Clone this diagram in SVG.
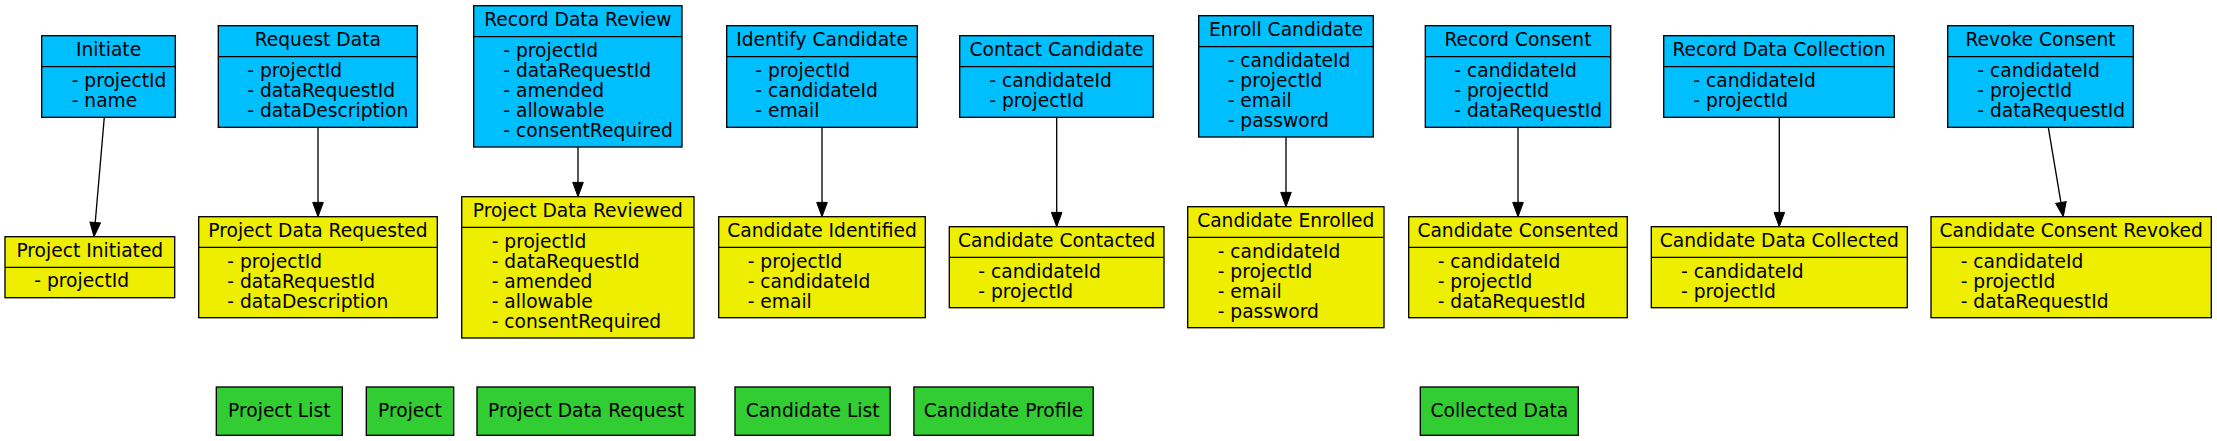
<svg xmlns="http://www.w3.org/2000/svg" width="2217" height="441" viewBox="0 0 2217 441">
<style>
text{font-family:"DejaVu Sans","Liberation Sans",sans-serif;font-size:18.67px;fill:#000}
.t{text-anchor:middle}
.b{fill:#00bfff;stroke:#000;stroke-width:1.33}
.y{fill:#eeee00;stroke:#000;stroke-width:1.33}
.g{fill:#32cd32;stroke:#000;stroke-width:1.33}
.d{stroke:#000;stroke-width:1.33;fill:none}
.e{stroke:#000;stroke-width:1.33;fill:none;marker-end:url(#ah)}
</style>
<defs>
<marker id="ah" markerUnits="userSpaceOnUse" markerWidth="15" markerHeight="11" refX="14.3" refY="5.3" orient="auto" overflow="visible">
<path d="M0,0 L14.3,5.3 L0,10.6 z" fill="#000" stroke="#000" stroke-width="1"/>
</marker>
</defs>
<rect width="2217" height="441" fill="#fff"/>

<g id="connectors">
<line class="e" x1="104.3" y1="117.3" x2="94" y2="236.7"/>
<line class="e" x1="318" y1="127.3" x2="318" y2="216.7"/>
<line class="e" x1="578" y1="147" x2="578" y2="196.7"/>
<line class="e" x1="822" y1="127.3" x2="822" y2="216.7"/>
<line class="e" x1="1056.7" y1="117.3" x2="1056.7" y2="226.7"/>
<line class="e" x1="1286" y1="137" x2="1286" y2="206.7"/>
<line class="e" x1="1518" y1="127.3" x2="1518" y2="216.7"/>
<line class="e" x1="1779.3" y1="117.3" x2="1779.3" y2="226.7"/>
<line class="e" x1="2048.3" y1="127.3" x2="2063.3" y2="216.7"/>
</g>

<g id="initiate">
<rect class="b" x="41.7" y="35.7" width="133.6" height="81.6"/>
<line class="d" x1="41.7" y1="66.7" x2="175.3" y2="66.7"/>
<text class="t" x="108.5" y="55.5">Initiate</text>
<text x="71.7" y="86.7">- projectId</text>
<text x="71.7" y="106.7">- name</text>
</g>

<g id="request-data">
<rect class="b" x="218.3" y="25.7" width="199" height="101.6"/>
<line class="d" x1="218.3" y1="56.7" x2="417.3" y2="56.7"/>
<text class="t" x="317.8" y="45.5">Request Data</text>
<text x="247.3" y="76.7">- projectId</text>
<text x="247.3" y="96.7">- dataRequestId</text>
<text x="247.3" y="116.7">- dataDescription</text>
</g>

<g id="record-data-review">
<rect class="b" x="473.7" y="5.7" width="208.3" height="141.3"/>
<line class="d" x1="473.7" y1="36.7" x2="682" y2="36.7"/>
<text class="t" x="577.9" y="25.5">Record Data Review</text>
<text x="503.3" y="56.7">- projectId</text>
<text x="503.3" y="76.7">- dataRequestId</text>
<text x="503.3" y="96.7">- amended</text>
<text x="503.3" y="116.7">- allowable</text>
<text x="503.3" y="136.7">- consentRequired</text>
</g>

<g id="identify-candidate">
<rect class="b" x="726.7" y="25.7" width="190.6" height="101.6"/>
<line class="d" x1="726.7" y1="56.7" x2="917.3" y2="56.7"/>
<text class="t" x="822" y="45.5">Identify Candidate</text>
<text x="755.3" y="76.7">- projectId</text>
<text x="755.3" y="96.7">- candidateId</text>
<text x="755.3" y="116.7">- email</text>
</g>

<g id="contact-candidate">
<rect class="b" x="959.7" y="35.7" width="193.6" height="81.6"/>
<line class="d" x1="959.7" y1="66.7" x2="1153.3" y2="66.7"/>
<text class="t" x="1056.5" y="55.5">Contact Candidate</text>
<text x="989.3" y="86.7">- candidateId</text>
<text x="989.3" y="106.7">- projectId</text>
</g>

<g id="enroll-candidate">
<rect class="b" x="1198.7" y="15.7" width="174.6" height="121.3"/>
<line class="d" x1="1198.7" y1="46.7" x2="1373.3" y2="46.7"/>
<text class="t" x="1286" y="35.5">Enroll Candidate</text>
<text x="1227.7" y="66.7">- candidateId</text>
<text x="1227.7" y="86.7">- projectId</text>
<text x="1227.7" y="106.7">- email</text>
<text x="1227.7" y="126.7">- password</text>
</g>

<g id="record-consent">
<rect class="b" x="1425.3" y="25.7" width="185.4" height="101.6"/>
<line class="d" x1="1425.3" y1="56.7" x2="1610.7" y2="56.7"/>
<text class="t" x="1518" y="45.5">Record Consent</text>
<text x="1454.3" y="76.7">- candidateId</text>
<text x="1454.3" y="96.7">- projectId</text>
<text x="1454.3" y="116.7">- dataRequestId</text>
</g>

<g id="record-data-collection">
<rect class="b" x="1663.7" y="35.7" width="230.6" height="81.6"/>
<line class="d" x1="1663.7" y1="66.7" x2="1894.3" y2="66.7"/>
<text class="t" x="1779" y="55.5">Record Data Collection</text>
<text x="1693.3" y="86.7">- candidateId</text>
<text x="1693.3" y="106.7">- projectId</text>
</g>

<g id="revoke-consent">
<rect class="b" x="1947.7" y="25.7" width="185.6" height="101.6"/>
<line class="d" x1="1947.7" y1="56.7" x2="2133.3" y2="56.7"/>
<text class="t" x="2040.5" y="45.5">Revoke Consent</text>
<text x="1977.3" y="76.7">- candidateId</text>
<text x="1977.3" y="96.7">- projectId</text>
<text x="1977.3" y="116.7">- dataRequestId</text>
</g>

<g id="project-initiated">
<rect class="y" x="5" y="236.7" width="169.7" height="61"/>
<line class="d" x1="5" y1="267.3" x2="174.7" y2="267.3"/>
<text class="t" x="89.8" y="256.5">Project Initiated</text>
<text x="34.3" y="287.3">- projectId</text>
</g>

<g id="project-data-requested">
<rect class="y" x="198.7" y="216.7" width="238.6" height="101"/>
<line class="d" x1="198.7" y1="247.3" x2="437.3" y2="247.3"/>
<text class="t" x="318" y="236.5">Project Data Requested</text>
<text x="227.3" y="267.5">- projectId</text>
<text x="227.3" y="287.5">- dataRequestId</text>
<text x="227.3" y="307.5">- dataDescription</text>
</g>

<g id="project-data-reviewed">
<rect class="y" x="461.7" y="196.7" width="232.3" height="141.3"/>
<line class="d" x1="461.7" y1="227.3" x2="694" y2="227.3"/>
<text class="t" x="577.8" y="216.5">Project Data Reviewed</text>
<text x="491.7" y="247.5">- projectId</text>
<text x="491.7" y="267.5">- dataRequestId</text>
<text x="491.7" y="287.5">- amended</text>
<text x="491.7" y="307.5">- allowable</text>
<text x="491.7" y="327.5">- consentRequired</text>
</g>

<g id="candidate-identified">
<rect class="y" x="718.7" y="216.7" width="206.6" height="101"/>
<line class="d" x1="718.7" y1="247.3" x2="925.3" y2="247.3"/>
<text class="t" x="822" y="236.5">Candidate Identified</text>
<text x="747.7" y="267.5">- projectId</text>
<text x="747.7" y="287.5">- candidateId</text>
<text x="747.7" y="307.5">- email</text>
</g>

<g id="candidate-contacted">
<rect class="y" x="949.3" y="226.7" width="214.7" height="81"/>
<line class="d" x1="949.3" y1="257.3" x2="1164" y2="257.3"/>
<text class="t" x="1056.7" y="246.5">Candidate Contacted</text>
<text x="978.3" y="277.5">- candidateId</text>
<text x="978.3" y="297.5">- projectId</text>
</g>

<g id="candidate-enrolled">
<rect class="y" x="1187.7" y="206.7" width="196.3" height="121"/>
<line class="d" x1="1187.7" y1="237.3" x2="1384" y2="237.3"/>
<text class="t" x="1285.8" y="226.5">Candidate Enrolled</text>
<text x="1217.7" y="257.5">- candidateId</text>
<text x="1217.7" y="277.5">- projectId</text>
<text x="1217.7" y="297.5">- email</text>
<text x="1217.7" y="317.5">- password</text>
</g>

<g id="candidate-consented">
<rect class="y" x="1408.7" y="216.7" width="218.6" height="101"/>
<line class="d" x1="1408.7" y1="247.3" x2="1627.3" y2="247.3"/>
<text class="t" x="1518" y="236.5">Candidate Consented</text>
<text x="1437.7" y="267.5">- candidateId</text>
<text x="1437.7" y="287.5">- projectId</text>
<text x="1437.7" y="307.5">- dataRequestId</text>
</g>

<g id="candidate-data-collected">
<rect class="y" x="1651.3" y="226.7" width="256" height="81"/>
<line class="d" x1="1651.3" y1="257.3" x2="1907.3" y2="257.3"/>
<text class="t" x="1779.3" y="246.5">Candidate Data Collected</text>
<text x="1681" y="277.5">- candidateId</text>
<text x="1681" y="297.5">- projectId</text>
</g>

<g id="candidate-consent-revoked">
<rect class="y" x="1931" y="216.7" width="280.3" height="101"/>
<line class="d" x1="1931" y1="247.3" x2="2211.3" y2="247.3"/>
<text class="t" x="2071.2" y="236.5">Candidate Consent Revoked</text>
<text x="1960.7" y="267.5">- candidateId</text>
<text x="1960.7" y="287.5">- projectId</text>
<text x="1960.7" y="307.5">- dataRequestId</text>
</g>

<g id="project-list">
<rect class="g" x="216.3" y="387" width="126" height="48.3"/>
<text class="t" x="279.3" y="416.5">Project List</text>
</g>
<g id="project">
<rect class="g" x="366.3" y="387" width="87.4" height="48.3"/>
<text class="t" x="410" y="416.5">Project</text>
</g>
<g id="project-data-request">
<rect class="g" x="477" y="387" width="218" height="48.3"/>
<text class="t" x="586" y="416.5">Project Data Request</text>
</g>
<g id="candidate-list">
<rect class="g" x="735" y="387" width="155.2" height="48.3"/>
<text class="t" x="812.6" y="416.5">Candidate List</text>
</g>
<g id="candidate-profile">
<rect class="g" x="913.9" y="387" width="179.3" height="48.3"/>
<text class="t" x="1003.5" y="416.5">Candidate Profile</text>
</g>
<g id="collected-data">
<rect class="g" x="1420.3" y="387" width="158" height="48.3"/>
<text class="t" x="1499.3" y="416.5">Collected Data</text>
</g>
</svg>
